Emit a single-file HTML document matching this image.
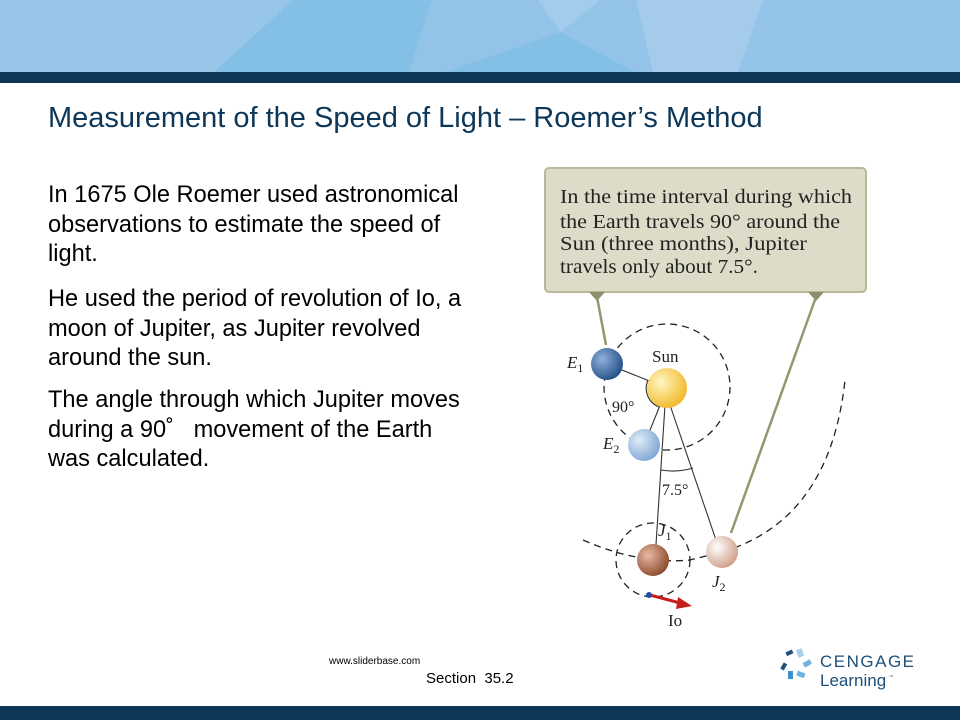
<!DOCTYPE html>
<html><head><meta charset="utf-8"><style>
body{margin:0;width:960px;height:720px;overflow:hidden;background:#fff;position:relative;font-family:"Liberation Sans",Arial,sans-serif}
.t{position:absolute;left:48px;font-size:23.6px;line-height:29.5px;color:#000;width:421px}
</style></head><body>
<svg width="960" height="720" style="position:absolute;left:0;top:0">
<rect x="0" y="0" width="960" height="72" fill="#98c6e8"/>
<polygon points="293,0 432,0 409,72 214,72" fill="#84c0e6"/>
<polygon points="432,0 538,0 561,32 446,72 409,72" fill="#93c4e8"/>
<polygon points="538,0 600,0 561,32" fill="#a3cbec"/>
<polygon points="561,32 635,72 446,72" fill="#84c0e6"/>
<polygon points="600,0 636,0 653,72 635,72 561,32" fill="#93c4e8"/>
<polygon points="636,0 763,0 738,72 653,72" fill="#a4cbec"/>
<polygon points="763,0 960,0 960,72 738,72" fill="#94c4e8"/>
<rect x="0" y="72" width="960" height="11" fill="#0d3758"/>
<rect x="0" y="706" width="960" height="14" fill="#0d3758"/>
<defs>
<radialGradient id="gE1" cx="35%" cy="35%" r="70%"><stop offset="0" stop-color="#8fb0dc"/><stop offset="1" stop-color="#234f87"/></radialGradient>
<radialGradient id="gE2" cx="35%" cy="35%" r="70%"><stop offset="0" stop-color="#e0ecf8"/><stop offset="1" stop-color="#7fa6d3"/></radialGradient>
<radialGradient id="gS" cx="35%" cy="35%" r="70%"><stop offset="0" stop-color="#fff6c0"/><stop offset="1" stop-color="#f2b82a"/></radialGradient>
<radialGradient id="gJ1" cx="35%" cy="35%" r="70%"><stop offset="0" stop-color="#e7b9a4"/><stop offset="1" stop-color="#8c4a2c"/></radialGradient>
<radialGradient id="gJ2" cx="35%" cy="35%" r="70%"><stop offset="0" stop-color="#fff"/><stop offset="1" stop-color="#cf9f89"/></radialGradient>
</defs>
<rect x="545" y="168" width="321" height="124" rx="4" fill="#dcdcc8" stroke="#b9b99a" stroke-width="2"/>
<polygon points="589,292 605,292 597,301" fill="#8e8e6c"/>
<polygon points="808,292 824,292 816,301" fill="#8e8e6c"/>
<line x1="597" y1="297" x2="606" y2="345" stroke="#96966f" stroke-width="2.5"/>
<line x1="816" y1="297" x2="731" y2="533" stroke="#96966f" stroke-width="2.5"/>
<g fill="none" stroke="#222" stroke-width="1.3" stroke-dasharray="7,5">
<circle cx="667" cy="387" r="63"/>
<path d="M583,540 Q640,565 690,560 L722,552 Q830,520 845,380"/>
<circle cx="653" cy="560" r="37"/>
</g>
<g stroke="#333" stroke-width="1.1" fill="none">
<line x1="607" y1="364" x2="667" y2="388"/>
<line x1="667" y1="388" x2="644" y2="445"/>
<line x1="665" y1="405" x2="655" y2="560"/>
<line x1="670" y1="405" x2="716" y2="540"/>
<path d="M648,380 A20,20 0 0 0 659,407"/>
<path d="M661,470 A70,70 0 0 0 693,468"/>
</g>
<circle cx="607" cy="364" r="16" fill="url(#gE1)"/>
<circle cx="667" cy="388" r="20" fill="url(#gS)"/>
<circle cx="644" cy="445" r="16" fill="url(#gE2)"/>
<circle cx="653" cy="560" r="16" fill="url(#gJ1)"/>
<circle cx="722" cy="552" r="16" fill="url(#gJ2)"/>
<line x1="650" y1="595" x2="680" y2="603" stroke="#c81d1d" stroke-width="3"/>
<polygon points="678,597 692,606 676,609" fill="#c81d1d"/>
<circle cx="649" cy="595" r="3" fill="#1a4fa8"/>
<g font-family="Liberation Serif,serif" font-size="19.5" fill="#222">
<text x="560" y="203" textLength="292" lengthAdjust="spacingAndGlyphs">In the time interval during which</text>
<text x="560" y="228" textLength="280" lengthAdjust="spacingAndGlyphs">the Earth travels 90° around the</text>
<text x="560" y="250" textLength="247" lengthAdjust="spacingAndGlyphs">Sun (three months), Jupiter</text>
<text x="560" y="273" textLength="198" lengthAdjust="spacingAndGlyphs">travels only about 7.5°.</text>
<text x="652" y="362" font-size="17">Sun</text>
<text x="612" y="412" font-size="16">90°</text>
<text x="662" y="495" font-size="16">7.5°</text>
<text x="668" y="626" font-size="17">Io</text>
<text x="567" y="368" font-size="17"><tspan font-style="italic">E</tspan><tspan font-size="12" dy="4">1</tspan></text>
<text x="603" y="449" font-size="17"><tspan font-style="italic">E</tspan><tspan font-size="12" dy="4">2</tspan></text>
<text x="658" y="536" font-size="17"><tspan font-style="italic">J</tspan><tspan font-size="12" dy="4">1</tspan></text>
<text x="712" y="587" font-size="17"><tspan font-style="italic">J</tspan><tspan font-size="12" dy="4">2</tspan></text>
</g>
<g>
<rect x="786" y="651" width="7" height="4" fill="#1d4f7a" transform="rotate(-25 789 653)"/>
<rect x="797" y="649" width="6" height="8" fill="#a7d0ee" transform="rotate(-20 800 653)"/>
<rect x="803" y="661" width="8" height="5" fill="#6fb1e0" transform="rotate(-30 807 663)"/>
<rect x="782" y="663" width="4" height="7" fill="#1d4f7a" transform="rotate(30 784 666)"/>
<rect x="788" y="671" width="5" height="8" fill="#3a8fcc"/>
<rect x="797" y="672" width="8" height="5" fill="#6fb1e0" transform="rotate(20 801 674)"/>
</g>
<text x="820" y="667" font-size="17" fill="#1d4f7a" letter-spacing="1.5">CENGAGE</text>
<text x="820" y="686" font-size="17" fill="#1d4f7a">Learning</text>
<text x="889" y="678" font-size="4" fill="#1d4f7a">™</text>
</svg>
<div style="position:absolute;left:48px;top:102px;font-size:29px;color:#0d3758;white-space:nowrap">Measurement of the Speed of Light – Roemer’s Method</div>
<div class="t" style="top:181px">In 1675 Ole Roemer used astronomical observations to estimate the speed of light.</div>
<div class="t" style="top:285px">He used the period of revolution of Io, a moon of Jupiter, as Jupiter revolved around the sun.</div>
<div class="t" style="top:386px">The angle through which Jupiter moves during a 90˚&nbsp;&nbsp;&nbsp;movement of the Earth was calculated.</div>
<div style="position:absolute;left:329px;top:656px;font-size:10px">www.sliderbase.com</div>
<div style="position:absolute;left:426px;top:670px;font-size:15px">Section&nbsp; 35.2</div>
</body></html>
